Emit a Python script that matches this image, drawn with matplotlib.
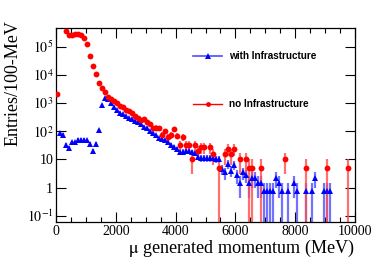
import numpy as np
import matplotlib
matplotlib.use("Agg")
import matplotlib.pyplot as plt
from matplotlib.lines import Line2D
from matplotlib.ticker import FixedLocator, LogLocator, NullFormatter, MultipleLocator

plt.rcParams['font.family'] = ['Liberation Serif', 'DejaVu Serif']
plt.rcParams['mathtext.fontset'] = 'stix'

nan = np.nan
bin_width = 100.0
bin_centers = np.arange(50, 10000, 100)

# no Infrastructure (red), entries per 100 MeV bin
red_values = [
    2100, nan, nan, 3.7e5, 2.5e5, 2.7e5, 2.9e5, 2.8e5, 2.7e5, 2.1e5,
    1.2e5, 4.6e4, 2.1e4, 1.05e4, 5.2e3, 3.3e3, 2.4e3, 1.65e3, 1.4e3, 1.17e3,
    1.0e3, 800, 740, 575, 510, 430, 355, 300, 250, 265,
    215, 175, 130, 135, 130, 76, 100, 63, 72, 120,
    70, 33, 63, 33, 33, 10, 33, 20, 27, 27,
    nan, 27, 15, nan, 5, nan, 15, 24, 15, 24,
    nan, 10, nan, 10, 5, 5, nan, nan, 5, nan,
    nan, nan, nan, nan, nan, nan, 10, nan, nan, nan,
    nan, nan, nan, 5, nan, nan, nan, nan, nan, nan,
    5, nan, nan, nan, nan, nan, nan, 5, nan, nan,
]

# with Infrastructure (blue), entries per 100 MeV bin
blue_values = [
    nan, 89, 76, 32, 25, 41, 41, 50, 50, 50,
    48, 35, 20, 36, 112, 870, 1550, 1420, 1000, 710,
    560, 450, 400, 355, 300, 270, 230, 205, 175, 140,
    126, 100, 83, 72, 58, 55, 48, 40, 32, 28,
    24, 18, 19, 20, 20, 18, 16.5, 12.5, 11, 11,
    11, 11, 11, 10, 10, 4.5, 3.5, 7, 4, 6.5,
    2.7, 1.46, 3.5, 2.9, 1.46, 2.2, 2.2, 1.46, 1.46, 0.73,
    0.73, 0.73, 0.73, 2.2, 1.46, 0.73, nan, 0.73, nan, 1.46,
    0.73, nan, nan, 0.73, nan, 0.73, 2.2, nan, nan, 0.73,
    0.73, 0.73, nan, nan, nan, nan, nan, nan, nan, nan,
]

red_weight = 5.0      # weight of one red entry
blue_weight = 0.73    # weight of one blue entry

x_ticks = [0, 2000, 4000, 6000, 8000, 10000]
y_ticks = [0.1, 1, 10, 100, 1000, 1e4, 1e5]
y_ticklabels = [r'$10^{-1}$', '1', '10', r'$10^{2}$', r'$10^{3}$', r'$10^{4}$', r'$10^{5}$']

red_values = np.array(red_values, dtype=float)
blue_values = np.array(blue_values, dtype=float)

W, H = 374, 265
fig = plt.figure(figsize=(W / 100, H / 100), dpi=100)
L, R, T, B = 56, 355, 28, 222
ax = fig.add_axes([L / W, 1 - B / H, (R - L) / W, (B - T) / H])

ylo, yhi = 0.06, 4.6e5


def draw(vals, w, color, ecolor, marker, ms):
    err = np.sqrt(vals * w)
    lower = np.minimum(err, vals - 1e-3)
    ax.errorbar(bin_centers, vals, yerr=[lower, err], fmt='none',
                ecolor=ecolor, elinewidth=1.6, capsize=0, zorder=2)
    ax.plot(bin_centers, vals, linestyle='none', marker=marker, ms=ms,
            color=color, markeredgewidth=0, zorder=3)


draw(blue_values, blue_weight, '#0000ff', (0.35, 0.35, 1.0, 0.85), '^', 5.0)
draw(red_values, red_weight, '#ff0000', (1.0, 0.3, 0.3, 0.8), 'o', 4.2)

ax.set_yscale('log')
ax.set_xlim(0, 10000)
ax.set_ylim(ylo, yhi)

ax.xaxis.set_major_locator(FixedLocator(x_ticks))
ax.xaxis.set_minor_locator(MultipleLocator(500))
ax.set_xticklabels([str(t) for t in x_ticks])
ax.yaxis.set_major_locator(FixedLocator(y_ticks))
ax.set_yticklabels(y_ticklabels)
ax.yaxis.set_minor_locator(LogLocator(base=10, subs=np.arange(2, 10)))
ax.yaxis.set_minor_formatter(NullFormatter())

ax.tick_params(which='both', direction='in', top=True, right=True, width=0.8,
               labelsize=10, pad=2)
ax.tick_params(which='major', length=7)
ax.tick_params(which='minor', length=3.5)
for s in ax.spines.values():
    s.set_linewidth(0.9)

fig.text(R / W, 1 - 253 / H, r'$\mathrm{\mu}$ generated momentum (MeV)', ha='right',
         va='baseline', fontsize=13.1)
fig.text(22 / W, 1 - 20 / H, 'Entries/100-MeV', rotation=90, ha='right', va='top',
         fontsize=13)

handles = [
    Line2D([], [], color=(0.3, 0.3, 1.0), lw=1.2, marker='^', ms=4,
           markerfacecolor='#0000ff', markeredgewidth=0),
    Line2D([], [], color='#ff0000', lw=1.0, marker='o', ms=3.5,
           markerfacecolor='#ff0000', markeredgewidth=0),
]
leg = ax.legend(handles, ['with Infrastructure', 'no Infrastructure'],
                loc='upper left', bbox_to_anchor=((193 - L) / (R - L), (B - 51) / (B - T)),
                frameon=False, borderpad=0, borderaxespad=0, handlelength=2.9,
                handletextpad=0.7, labelspacing=3.8,
                prop={'family': ['Liberation Sans'], 'weight': 'bold', 'size': 7.2})

fig.savefig('out.png', dpi=100)
